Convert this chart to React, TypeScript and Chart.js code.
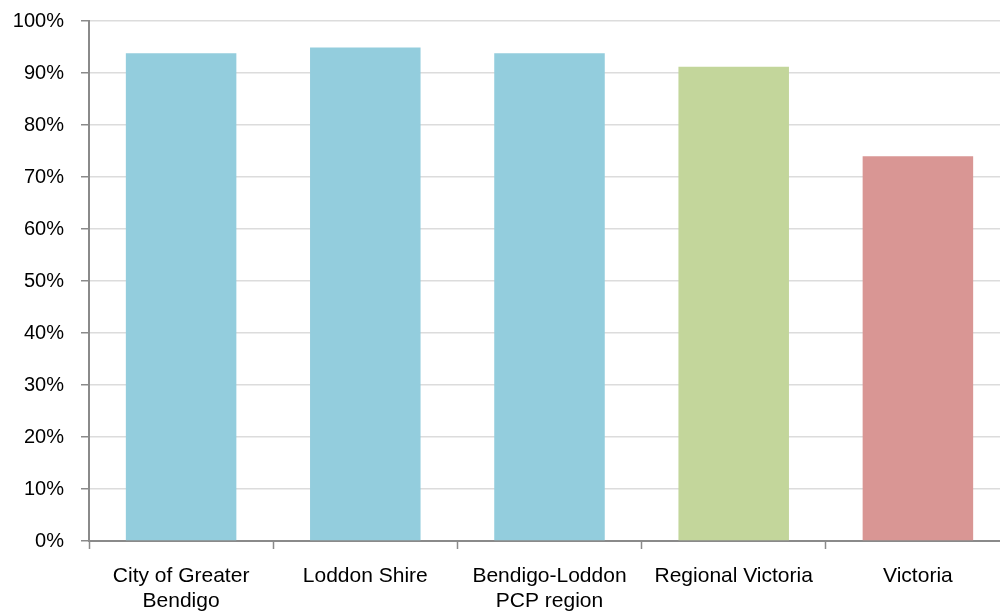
import React, { useEffect, useRef } from "react";
import { Chart, registerables } from "chart.js";

Chart.register(...registerables);

const categories: (string | string[])[] = [
  ["City of Greater", "Bendigo"],
  "Loddon Shire",
  ["Bendigo-Loddon", "PCP region"],
  "Regional Victoria",
  "Victoria",
];
const values: number[] = [93.8, 94.9, 93.8, 91.2, 74.0];
const barColors: string[] = ["#93CDDD", "#93CDDD", "#93CDDD", "#C3D69B", "#D99694"];
const yTicks: number[] = [0, 10, 20, 30, 40, 50, 60, 70, 80, 90, 100];

const FONT = "'Liberation Sans', Arial, sans-serif";

export default function App() {
  const ref = useRef<HTMLCanvasElement | null>(null);
  useEffect(() => {
    if (!ref.current) return;
    const chart = new Chart(ref.current, {
      type: "bar",
      data: {
        labels: categories,
        datasets: [
          {
            data: values,
            backgroundColor: barColors,
            borderWidth: 0,
            barPercentage: 0.6,
            categoryPercentage: 1,
          },
        ],
      },
      options: {
        responsive: false,
        animation: false,
        layout: { padding: { top: 21, right: 0, bottom: 0, left: 0 } },
        plugins: { legend: { display: false }, tooltip: { enabled: false } },
        scales: {
          x: {
            offset: true,
            afterFit: (s: any) => {
              s.height = 73;
              s.paddingLeft = 0;
              s.paddingRight = 0;
            },
            grid: {
              offset: true,
              drawOnChartArea: false,
              drawTicks: true,
              tickLength: 8,
              tickColor: "#8a8a8a",
              tickWidth: 1.5,
            },
            border: { color: "#8a8a8a", width: 2 },
            ticks: {
              color: "#000",
              font: { family: FONT, size: 21, lineHeight: "25px" },
              padding: 15,
              maxRotation: 0,
              minRotation: 0,
              autoSkip: false,
            },
          },
          y: {
            min: 0,
            max: 100,
            afterFit: (s: any) => {
              s.width = 89;
              s.paddingTop = 0;
              s.paddingBottom = 0;
            },
            afterBuildTicks: (s: any) => {
              s.ticks = yTicks.map((v) => ({ value: v }));
            },
            grid: {
              color: "#dcdcdc",
              lineWidth: 1.5,
              drawTicks: true,
              tickLength: 8,
              tickColor: "#8a8a8a",
              tickWidth: 1.5,
            },
            border: { color: "#8a8a8a", width: 2 },
            ticks: {
              color: "#000",
              font: { family: FONT, size: 20 },
              padding: 17,
              callback: (v: any) => `${v}%`,
            },
          },
        },
      },
    });
    return () => chart.destroy();
  }, []);
  return (
    <div
      style={{
        position: "absolute",
        left: 0,
        top: 0,
        width: 1000,
        height: 614,
        overflow: "hidden",
        background: "#fff",
      }}
    >
      <canvas ref={ref} width={1010} height={614} style={{ display: "block" }} />
    </div>
  );
}
